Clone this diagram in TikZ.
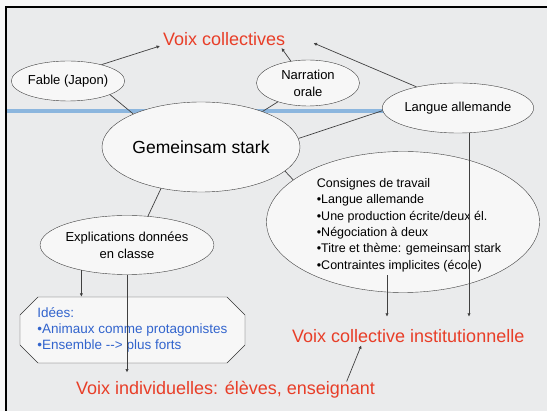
\documentclass[tikz,border=0pt]{standalone}
\usepackage{fontspec}
\setmainfont{Liberation Sans}
\usetikzlibrary{arrows.meta,shapes.geometric,shapes.misc,calc}
\definecolor{vred}{RGB}{232,62,40}
\definecolor{ideeblue}{RGB}{50,100,205}
\definecolor{band}{RGB}{140,182,222}
\definecolor{paper}{RGB}{234,235,236}
\tikzset{
  bubble/.style = {draw=black!75, ellipse, fill=paper!40!white, inner sep=0pt,
                   align=center, font=\fontsize{13}{17}\selectfont},
  voix/.style   = {text=vred, inner sep=0pt, font=\fontsize{18}{20}\selectfont},
  idea/.style   = {draw=black!80, chamfered rectangle, chamfered rectangle xsep=9pt,
                   chamfered rectangle ysep=9pt, fill=paper!40!white, text=ideeblue,
                   minimum width=225pt, minimum height=66pt, inner sep=0pt,
                   align=left, font=\fontsize{13.5}{16}\selectfont},
  link/.style   = {draw=black!75, line width=0.7pt},
  e/.style      = {link, -{Latex[length=3.5pt,width=3.5pt]}}
}
\begin{document}
\begin{tikzpicture}[x=1pt,y=-1pt]
  \useasboundingbox (0,0) rectangle (547,411);
  \fill[paper!40!white] (0,0) rectangle (547,411);
  \fill[paper] (6,7) rectangle (547,411);
  \draw[line width=1.6pt] (6,411) -- (6,7) -- (547,7);
  \draw[band, line width=3.5pt] (7,111) -- (400,111);

  \node[bubble, minimum width=102pt, minimum height=40pt] (fable) at (68,81) {Fable (Japon)};
  \node[bubble, minimum width=103pt, minimum height=46pt] (narr) at (308,83) {Narration\\orale};
  \node[bubble, minimum width=142pt, minimum height=50pt] (langue) at (458,108) {Langue allemande};
  \node[bubble, minimum width=198pt, minimum height=90pt,
        font=\fontsize{17.5}{20}\selectfont] (gem) at (201,147) {Gemeinsam stark};
  \node[bubble, minimum width=273pt, minimum height=141pt] (cons) at (403,222) {};
  \node[align=left, inner sep=0pt, font=\fontsize{12.5}{16.4}\selectfont] (consTxt) at (409,225)
    {Consignes de travail\\
     •Langue allemande\\
     •Une production écrite/deux él.\\
     •Négociation à deux\\
     •Titre et thème: gemeinsam stark\\
     •Contraintes implicites (école)};
  \node[bubble, minimum width=161pt, minimum height=59pt] (expl) at (127,245) {Explications données\\en classe};
  \node[idea] (idees) at (132.5,330)
    {Idées:\\
     •Animaux comme protagonistes\\
     •Ensemble -{}-> plus forts};

  \node[voix, anchor=base west] (vcoll) at (163,46) {Voix collectives};
  \node[voix, anchor=base west] (vinst) at (292,343) {Voix collective institutionnelle};
  \node[voix, anchor=base west] (vindiv) at (76,395) {Voix individuelles: élèves, enseignant};

  \coordinate (instTop) at ([yshift=13pt]vinst.north);
  \coordinate (indivTop) at ([yshift=9pt]vindiv.north);
  \coordinate (consFoot) at ([xshift=-22pt,yshift=-3pt]consTxt.south);
  \coordinate (langFoot) at ([xshift=11pt]langue.south);

  \draw[e] (fable.26) -- ([xshift=-3pt]vcoll.base west);
  \draw[e] (narr.128) -- ([xshift=-4pt,yshift=-2pt]vcoll.base east);
  \draw[e] (langue.153) -- ([xshift=28pt,yshift=3pt]vcoll.base east);

  \draw[link] (fable.-18) -- (gem.154);
  \draw[link] (narr.212) -- (gem.30);
  \draw[link] (langue.182) -- (gem.5);
  \draw[link] (gem.-16) -- (cons.159);
  \draw[link] (gem.226) -- (expl.54);

  \draw[e] (expl.209) -- (expl.209 |- idees.north);
  \draw[e] (expl.south) -- (expl.south |- indivTop);
  \draw[e] (consFoot) -- (consFoot |- instTop);
  \draw[e] (langFoot) -- (langFoot |- instTop);
  \draw[e] ([xshift=121pt]vindiv.north) -- ([xshift=-47pt,yshift=-2pt]vinst.south);
\end{tikzpicture}
\end{document}
